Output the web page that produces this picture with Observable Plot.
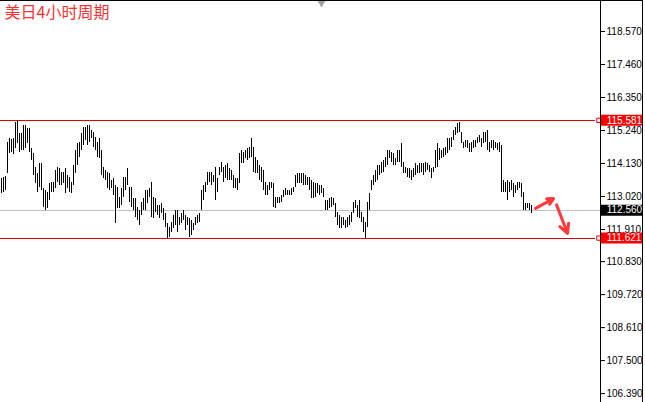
<!DOCTYPE html>
<html>
<head>
<meta charset="utf-8">
<script src="https://cdn.jsdelivr.net/npm/d3@7"></script>
<script src="https://cdn.jsdelivr.net/npm/@observablehq/plot@0.6"></script>
<style>
  html, body { margin: 0; padding: 0; background: #fff; }
  #wrap { position: relative; width: 645px; height: 402px; overflow: hidden; }
  #edge { position: absolute; left: 0; top: 0; width: 643px; height: 402px; box-sizing: border-box;
          border-top: 1px solid #000; border-right: 1px solid #000; pointer-events: none; }
</style>
</head>
<body>
<div id="wrap"><div id="chart"></div><div id="edge"></div></div>
<script>
// USD/JPY 4-hour bars: high / low prices, oldest first
const highs = [
  113.63, 113.66, 113.69, 114.84, 114.97, 114.94, 114.97, 115.52, 115.581, 115.14,
  115.14, 115.41, 115.41, 115.31, 115.31, 114.64, 114.47, 114.00, 113.79, 114.13,
  114.13, 113.29, 113.22, 113.16, 113.46, 113.49, 113.49, 113.89, 114.00, 113.96,
  113.83, 113.83, 113.96, 113.73, 113.66, 113.49, 114.06, 114.57, 114.80, 114.84,
  115.14, 115.34, 115.34, 115.41, 115.41, 115.24, 115.17, 115.01, 114.84, 114.97,
  114.57, 114.00, 113.89, 113.83, 113.79, 113.56, 113.63, 113.39, 113.32, 112.99,
  113.29, 113.66, 113.66, 113.96, 113.32, 113.32, 112.95, 112.95, 112.65, 112.55,
  112.82, 112.95, 113.22, 113.22, 113.29, 113.49, 112.99, 112.95, 112.72, 112.72,
  112.79, 112.62, 112.45, 112.11, 111.98, 112.15, 112.38, 112.55, 112.55, 112.31,
  112.45, 112.55, 112.38, 112.31, 112.28, 112.21, 112.11, 112.31, 112.38, 112.45,
  113.22, 113.39, 113.49, 113.83, 113.83, 113.83, 113.73, 114.00, 113.63, 114.00,
  114.16, 114.00, 114.06, 114.13, 113.96, 113.89, 113.73, 113.63, 113.63, 114.47,
  114.57, 114.50, 114.57, 114.64, 114.67, 114.97, 114.67, 114.33, 114.23, 114.06,
  114.00, 113.89, 113.49, 113.39, 113.49, 113.49, 113.46, 112.99, 112.99, 112.99,
  113.05, 113.22, 113.29, 113.22, 113.22, 113.29, 113.32, 113.73, 113.79, 113.79,
  113.79, 113.79, 113.73, 113.66, 113.66, 113.56, 113.49, 113.46, 113.46, 113.39,
  113.39, 113.29, 112.89, 112.89, 112.95, 112.99, 112.95, 112.79, 112.48, 112.38,
  112.31, 112.31, 112.21, 112.31, 112.38, 112.48, 112.82, 112.89, 112.72, 112.89,
  112.48, 112.31, 112.15, 112.82, 113.12, 113.56, 113.73, 113.89, 114.06, 114.06,
  114.16, 114.23, 114.33, 114.57, 114.57, 114.50, 114.47, 114.30, 114.57, 114.57,
  114.80, 114.16, 114.00, 113.96, 113.96, 113.89, 113.96, 114.13, 114.06, 114.13,
  114.13, 114.13, 114.16, 114.13, 114.06, 113.96, 114.00, 114.57, 114.80, 114.64,
  114.57, 114.64, 114.67, 114.97, 114.97, 115.01, 115.24, 115.34, 115.48, 115.51,
  115.17, 114.84, 114.90, 114.90, 114.80, 114.84, 114.90, 114.90, 115.01, 115.07,
  114.97, 115.17, 115.17, 115.24, 114.84, 114.90, 114.90, 114.84, 114.80, 114.84,
  114.74, 113.56, 113.49, 113.56, 113.49, 113.56, 113.46, 113.39, 113.49, 113.49,
  113.46, 113.16, 112.79, 112.79, 112.79, 112.72
];
const lows = [
  113.12, 113.16, 113.22, 113.79, 114.47, 114.50, 114.43, 114.64, 114.80, 114.50,
  114.57, 114.57, 114.64, 114.80, 114.50, 114.23, 113.73, 113.46, 113.16, 113.32,
  113.22, 112.65, 112.55, 112.62, 112.89, 113.16, 113.16, 113.29, 113.49, 113.39,
  113.39, 113.46, 113.12, 113.29, 113.16, 113.12, 113.39, 113.79, 114.06, 114.33,
  114.57, 114.74, 114.90, 114.74, 114.84, 114.97, 114.67, 114.57, 114.33, 114.30,
  113.73, 113.63, 113.56, 113.29, 113.22, 113.29, 113.05, 112.11, 112.62, 112.62,
  112.72, 112.99, 113.22, 113.39, 112.82, 112.65, 112.55, 112.31, 112.21, 112.04,
  112.38, 112.55, 112.55, 112.79, 112.99, 112.31, 112.28, 112.48, 112.38, 112.28,
  112.45, 112.21, 111.98, 111.621, 111.63, 111.81, 111.94, 112.04, 111.81, 112.04,
  112.11, 112.21, 111.88, 112.04, 111.64, 111.71, 111.88, 112.04, 112.11, 112.15,
  112.55, 112.89, 113.16, 113.39, 113.49, 113.39, 113.49, 112.89, 113.16, 113.73,
  113.83, 113.49, 113.63, 113.56, 113.56, 113.56, 113.29, 113.29, 113.22, 113.46,
  114.13, 114.13, 114.30, 114.23, 114.30, 114.33, 113.83, 113.79, 113.79, 113.56,
  113.49, 113.22, 113.05, 113.05, 113.22, 113.29, 112.65, 112.62, 112.79, 112.79,
  112.82, 112.99, 113.05, 113.05, 113.05, 113.05, 113.16, 113.32, 113.46, 113.46,
  113.46, 113.39, 113.39, 113.39, 113.22, 112.95, 112.95, 112.99, 113.12, 113.05,
  113.12, 112.99, 112.55, 112.55, 112.62, 112.65, 112.72, 112.31, 112.04, 111.94,
  111.94, 112.04, 111.94, 111.98, 112.04, 112.15, 112.45, 112.62, 112.31, 112.28,
  112.15, 111.81, 111.621, 111.98, 112.55, 113.22, 113.39, 113.49, 113.56, 113.73,
  113.79, 113.83, 114.00, 114.06, 114.30, 114.16, 114.06, 114.06, 114.16, 114.16,
  114.00, 113.79, 113.79, 113.66, 113.63, 113.56, 113.66, 113.73, 113.79, 113.79,
  113.83, 113.73, 113.83, 113.89, 113.83, 113.63, 113.83, 113.96, 114.00, 114.23,
  114.30, 114.33, 114.40, 114.47, 114.57, 114.67, 114.90, 115.07, 115.14, 115.17,
  114.80, 114.64, 114.67, 114.64, 114.50, 114.50, 114.64, 114.67, 114.80, 114.84,
  114.67, 114.80, 114.84, 114.57, 114.50, 114.64, 114.57, 114.64, 114.57, 114.50,
  113.16, 113.16, 113.16, 112.89, 113.16, 113.22, 112.99, 113.12, 113.22, 113.29,
  112.99, 112.55, 112.55, 112.62, 112.55, 112.45
];

// price axis tick labels (as printed)
const tickValues = [118.570, 117.460, 116.350, 115.240, 114.130, 113.020, 111.910, 110.830, 109.720, 108.610, 107.500, 106.390];

// visible price window and bar slots
const priceMax = 119.613;
const priceMin = 106.091;
const slots = 300;
const shiftIndex = 160;

// horizontal levels drawn by the analyst
const levels = [115.581, 111.621];
const lastPrice = 112.560;

// analyst arrows (bar index, price)
const arrows = [
  { x1: 267, y1: 112.62, x2: 276, y2: 112.95 },
  { x1: 277.5, y1: 112.74, x2: 283, y2: 111.78 }
];

const title = "美日4小时周期";

const bars = highs.map((h, i) => ({ i, high: h, low: lows[i] }));
const priceLabels = [
  { price: levels[0], bg: "#ff0000" },
  { price: lastPrice, bg: "#000000" },
  { price: levels[1], bg: "#ff0000" }
];
const fmt = d3.format(".3f");
const red = "#e00000";

const chart = Plot.plot({
  width: 645,
  height: 402,
  marginLeft: 0,
  marginRight: 45,
  marginTop: 0,
  marginBottom: 0,
  x: { domain: [-0.5, slots - 0.5], axis: null },
  y: { domain: [priceMin, priceMax], axis: null },
  style: { fontFamily: "Liberation Sans, Arial, sans-serif", fontSize: "10px", background: "#fff", overflow: "visible" },
  marks: [
    Plot.ruleY([lastPrice], { stroke: "#c0c0c0", strokeWidth: 1, shapeRendering: "crispEdges" }),
    Plot.ruleY(levels, { x1: -0.5, x2: slots - 3, stroke: red, strokeWidth: 1, shapeRendering: "crispEdges" }),
    Plot.dot(levels, { x: slots - 1.3, y: d => d, symbol: "square", r: 2.4, stroke: red, fill: "#fff", strokeWidth: 1 }),
    Plot.ruleX(bars, { x: "i", y1: "low", y2: "high", stroke: "#000", strokeWidth: 1, shapeRendering: "crispEdges" }),
    Plot.arrow(arrows, { x1: "x1", y1: "y1", x2: "x2", y2: "y2", stroke: "#ff3838", strokeWidth: 3, headLength: 9, headAngle: 55 }),
    Plot.ruleX([slots - 0.5], { stroke: "#000", strokeWidth: 1, shapeRendering: "crispEdges" }),
    Plot.ruleY([priceMax], { stroke: "#000", strokeWidth: 1, shapeRendering: "crispEdges" }),
    Plot.axisY(tickValues, { anchor: "right", tickSize: 4, tickPadding: 2, tickFormat: fmt, label: null, fill: "#000", fontSize: 10 }),
    Plot.ruleY(priceLabels, { y: "price", x1: slots, x2: slots + 21, stroke: "bg", strokeWidth: 11 }),
    Plot.text(priceLabels, { y: "price", x: slots + 2.6, text: d => fmt(d.price), textAnchor: "start", fill: "#fff", fontSize: 10 }),
    Plot.dot([shiftIndex], { x: d => d, frameAnchor: "top", dy: 2, symbol: "triangle", rotate: 180, r: 3.2, fill: "#a0a0a0" }),
    Plot.text([title], { frameAnchor: "top-left", dx: 4, dy: 6, lineAnchor: "top", textAnchor: "start", text: d => d,
      fill: "#ff3030", fontSize: 16, fontFamily: "Noto Sans CJK SC" })
  ]
});
chart.setAttribute("color", "#000");
document.getElementById("chart").appendChild(chart);
</script>
</body>
</html>
